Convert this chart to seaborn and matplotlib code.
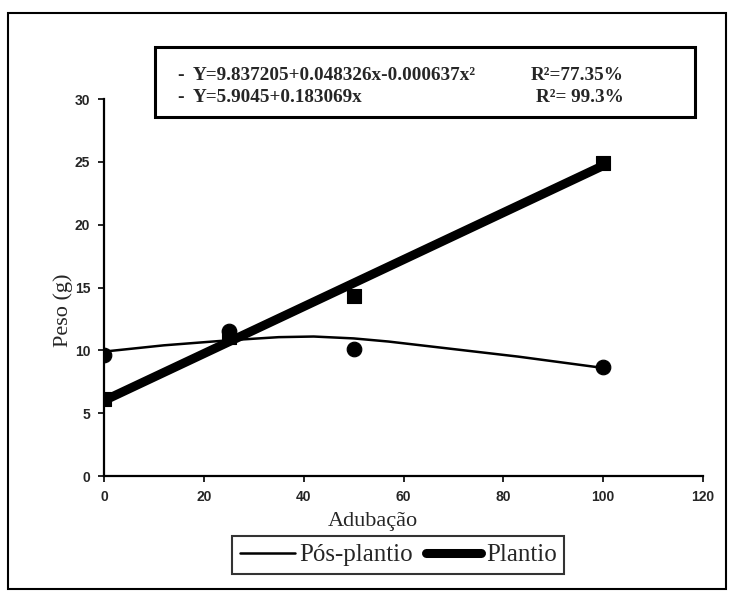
import numpy as np
import pandas as pd
import matplotlib.pyplot as plt
import seaborn as sns
from matplotlib.lines import Line2D
from matplotlib.patches import Rectangle

# observed points
adubacao = [0, 25, 50, 100]
pos_plantio = [9.6, 11.5, 10.1, 8.7]
plantio = [6.1, 11.1, 14.3, 24.9]

# fitted curves
pos_curve_x = [0, 12, 25, 35, 42, 50, 57, 70, 83, 100]
pos_curve_y = [9.9, 10.4, 10.8, 11.05, 11.1, 10.95, 10.7, 10.1, 9.5, 8.6]
plantio_line_x = [0, 100]
plantio_line_y = [6.0, 24.7]

eq_pos = "Y=9.837205+0.048326x-0.000637x\u00b2"
eq_plantio = "Y=5.9045+0.183069x"
r2_pos = "R\u00b2=77.35%"
r2_plantio = "R\u00b2= 99.3%"

sns.set_style("ticks")
serif = ["Liberation Serif", "DejaVu Serif"]

fig = plt.figure(figsize=(7.29, 5.93), dpi=100)
ax = fig.add_axes([0.1427, 0.1973, 0.8216, 0.6357])

sns.lineplot(x=pos_curve_x, y=pos_curve_y, ax=ax, color="black", linewidth=1.8, sort=False)
sns.lineplot(x=plantio_line_x, y=plantio_line_y, ax=ax, color="black", linewidth=6.5)
sns.scatterplot(x=adubacao, y=pos_plantio, ax=ax, color="black", marker="o", s=110, edgecolor="black", zorder=5)
sns.scatterplot(x=adubacao, y=plantio, ax=ax, color="black", marker="s", s=100, edgecolor="black", zorder=5)

ax.set_xlim(0, 120)
ax.set_ylim(0, 30)
ax.set_xticks(range(0, 121, 20))
ax.set_yticks(range(0, 31, 5))
for lab in ax.get_xticklabels() + ax.get_yticklabels():
    lab.set_fontfamily(["Liberation Sans", "DejaVu Sans"])
    lab.set_fontweight("bold")
    lab.set_fontsize(10)
ax.tick_params(length=4, width=1.2, color="black", pad=6)
sns.despine(ax=ax)
for sp in ["left", "bottom"]:
    ax.spines[sp].set_linewidth(1.6)
    ax.spines[sp].set_color("black")

ax.set_xlabel("Adubação", family=serif, fontsize=16)
ax.set_ylabel("Peso (g)", family=serif, fontsize=16)
ax.xaxis.set_label_coords(0.449, -0.095)
ax.yaxis.set_label_coords(-0.052, 0.44)

# equation box
fig.patches.append(Rectangle((0.2126, 0.803), 0.741, 0.117, transform=fig.transFigure,
                             fill=False, edgecolor="black", linewidth=2.2))
fig.text(0.243, 0.873, "-", family=serif, fontsize=14, weight="bold", va="center")
fig.text(0.243, 0.836, "-", family=serif, fontsize=14, weight="bold", va="center")
fig.text(0.265, 0.873, eq_pos, family=serif, fontsize=13.8, weight="bold", va="center")
fig.text(0.265, 0.836, eq_plantio, family=serif, fontsize=13.8, weight="bold", va="center")
fig.text(0.855, 0.873, r2_pos, family=serif, fontsize=13.8, weight="bold", va="center", ha="right")
fig.text(0.855, 0.836, r2_plantio, family=serif, fontsize=13.8, weight="bold", va="center", ha="right")

# outer frame
fig.patches.append(Rectangle((0.011, 0.006), 0.985, 0.972, transform=fig.transFigure,
                             fill=False, edgecolor="black", linewidth=1.5))

handles = [Line2D([], [], color="black", linewidth=1.8),
           Line2D([], [], color="black", linewidth=6.5)]
leg = fig.legend(handles, ["Pós-plantio", "Plantio"], loc="center", bbox_to_anchor=(0.546, 0.064),
                 ncol=2, frameon=True, fancybox=False, handlelength=2.2, handletextpad=0.2,
                 columnspacing=0.5, borderpad=0.3, prop={"family": serif, "size": 18})
leg.get_frame().set_edgecolor("black")
leg.get_frame().set_linewidth(1.5)

fig.savefig("out.png", dpi=100)
